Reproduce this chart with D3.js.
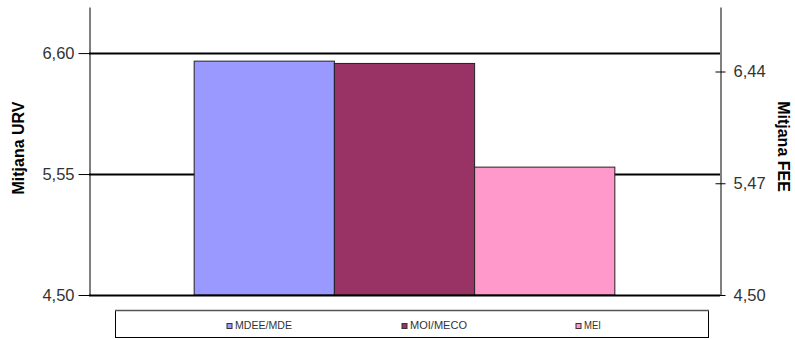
<!DOCTYPE html>
<html><head><meta charset="utf-8">
<script src="https://cdn.jsdelivr.net/npm/d3@7"></script>
<style>body{margin:0;background:#fff}svg{display:block}text{font-family:Arial,"Liberation Sans",sans-serif}</style>
</head><body><svg id="c" width="795" height="340"></svg>
<script>
const series = ["MDEE/MDE", "MOI/MECO", "MEI"];
const values = [6.53, 6.51, 5.61];
const colors = ["#9999ff", "#993366", "#ff99cc"];
const leftTicks = [4.50, 5.55, 6.60];
const rightTicks = [4.50, 5.47, 6.44];
const leftTitle = "Mitjana URV";
const rightTitle = "Mitjana FEE";

const svg = d3.select("#c");
const x0 = 89, x1 = 720, yTop = 7, yBot = 295;
const fmt = d => d3.format(".2f")(d).replace(".", ",");
const FONT = "Arial,'Liberation Sans',sans-serif";

const yL = d3.scaleLinear().domain([4.5, 7.0]).range([yBot, yTop]);
const yR = d3.scaleLinear().domain([4.5, 7.0]).range([yBot, yTop]);
const xCat = d3.scaleBand().domain(["g"]).range([x0, x1]).paddingInner(0).paddingOuter(0.25);
const xS = d3.scaleBand().domain(series).range([0, xCat.bandwidth()]);

// gridlines
svg.append("g").selectAll("line").data(leftTicks.slice(1)).join("line")
  .attr("x1", x0).attr("x2", x1).attr("y1", d => Math.round(yL(d)) + 0.5).attr("y2", d => Math.round(yL(d)) + 0.5)
  .attr("stroke", "#000").attr("stroke-width", 2);

// bars
svg.append("g").selectAll("rect").data(series).join("rect")
  .attr("x", (d) => xCat("g") + xS(d))
  .attr("y", (d, i) => yL(values[i]))
  .attr("width", xS.bandwidth())
  .attr("height", (d, i) => yBot - yL(values[i]))
  .attr("fill", (d, i) => colors[i])
  .attr("stroke", "#222").attr("stroke-width", 1);

// bottom axis line
svg.append("line").attr("x1", x0).attr("x2", x1).attr("y1", yBot + 0.5).attr("y2", yBot + 0.5)
  .attr("stroke", "#000").attr("stroke-width", 2);

// left axis
const gl = svg.append("g").attr("transform", `translate(${x0 + 0.5},0)`)
  .call(d3.axisLeft(yL).tickValues(leftTicks).tickFormat(fmt).tickSize(11).tickSizeOuter(0));
gl.select(".domain").attr("stroke", "#000");
gl.selectAll(".tick line").attr("stroke", "#000");
gl.selectAll(".tick text").attr("font-size", 16.5).attr("fill", "#333").attr("x", -15).attr("font-family", FONT);

// right axis
const gr = svg.append("g").attr("transform", `translate(${x1 + 0.5},0)`)
  .call(d3.axisRight(yR).tickValues(rightTicks).tickFormat(fmt).tickSize(5).tickSizeOuter(0));
gr.select(".domain").attr("stroke", "#000");
gr.selectAll(".tick line").attr("stroke", "#000").attr("x1", -5);
gr.selectAll(".tick text").attr("font-size", 16.5).attr("fill", "#333").attr("x", 13).attr("font-family", FONT);

// axis titles
svg.append("text").attr("transform", `translate(24,148) rotate(-90)`)
  .attr("text-anchor", "middle").attr("font-weight", "bold").attr("font-size", 16).text(leftTitle);
svg.append("text").attr("transform", `translate(778,146.5) rotate(90)`)
  .attr("text-anchor", "middle").attr("font-weight", "bold").attr("font-size", 16).text(rightTitle);

// legend
svg.append("rect").attr("x", 115.5).attr("y", 310.5).attr("width", 593).attr("height", 27)
  .attr("fill", "#fff").attr("stroke", "#000").attr("stroke-width", 1);
svg.append("line").attr("x1", 115).attr("x2", 709).attr("y1", 310.5).attr("y2", 310.5).attr("stroke", "#555").attr("stroke-width", 1.5);
const legX = [226.5, 401.5, 575.5];
const legW = [57, 57, 17];
const lg = svg.append("g").selectAll("g").data(series).join("g")
  .attr("transform", (d, i) => `translate(${legX[i]},323)`);
lg.append("rect").attr("x", 0.5).attr("y", 0.5).attr("width", 5).attr("height", 5)
  .attr("fill", (d, i) => colors[i]).attr("stroke", "#333").attr("stroke-width", 1);
lg.append("text").attr("x", 8.5).attr("y", 5.8).attr("font-size", 11.5).attr("fill", "#333")
  .attr("textLength", (d, i) => legW[i]).attr("lengthAdjust", "spacingAndGlyphs")
  .text(d => d);
</script></body></html>
